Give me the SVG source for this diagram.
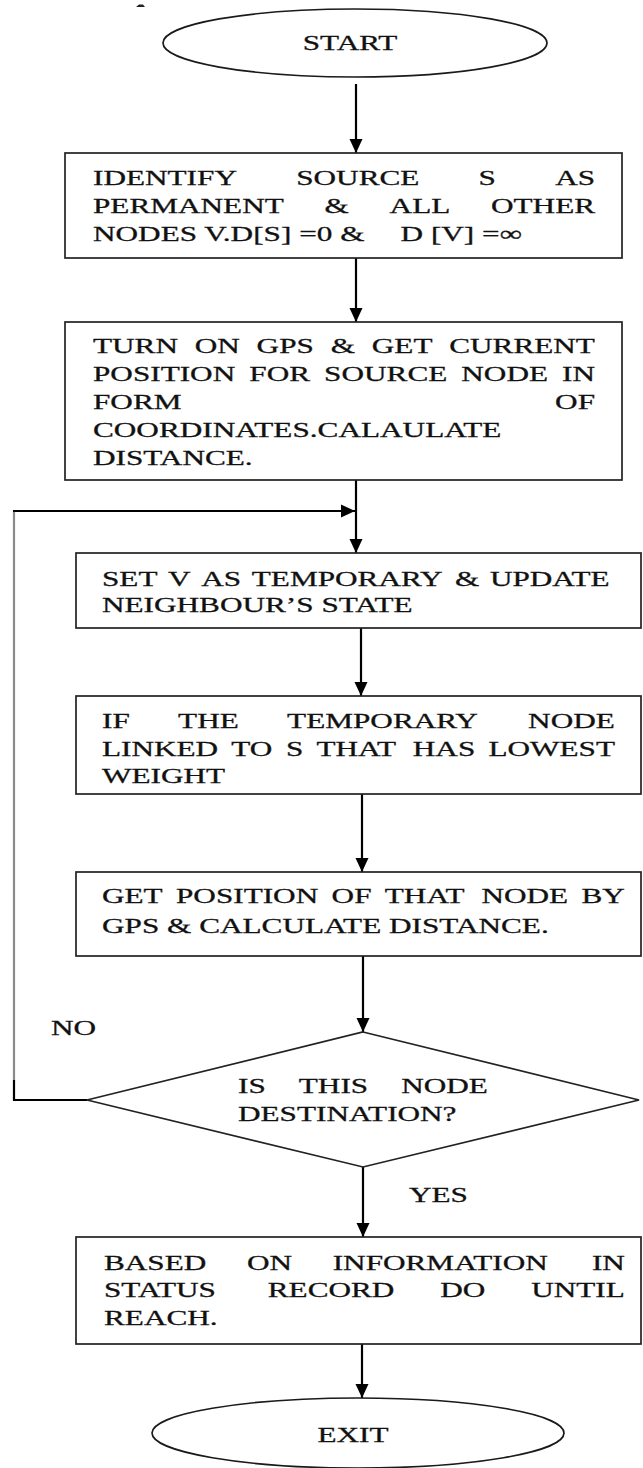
<svg xmlns="http://www.w3.org/2000/svg" width="643" height="1468" viewBox="0 0 643 1468">
  <style>
    .bg { fill: #ffffff; }
    .box { fill: #ffffff; stroke: #222222; stroke-width: 1.7; }
    .term { fill: #ffffff; stroke: #1a1a1a; stroke-width: 1.7; }
    .conn { fill: none; stroke: #000000; stroke-width: 2.2; }
    .conn-grey { fill: none; stroke: #8a8a8a; stroke-width: 2.2; }
    .t { font-family: "Liberation Serif", "Times New Roman", serif; font-size: 22px; fill: #111111; stroke: #111111; stroke-width: 0.3; }
    .mid { text-anchor: middle; }
  </style>
  <defs>
    <marker id="arrow" markerWidth="14" markerHeight="14" refX="14" refY="7" orient="auto" markerUnits="userSpaceOnUse">
      <path d="M0,0.5 L14,7 L0,13.5 Z" fill="#000000"/>
    </marker>
  </defs>

  <rect class="bg" x="0" y="0" width="643" height="1468"/>

  <!-- small stray mark at the top -->
  <path d="M136,7 L139,4.5 L143,4.5 L145,7 Z" fill="#222222"/>

  <!-- connectors -->
  <g id="connectors">
    <line class="conn" x1="356" y1="84" x2="356" y2="153" marker-end="url(#arrow)"/>
    <line class="conn" x1="356" y1="258" x2="356" y2="322" marker-end="url(#arrow)"/>
    <line class="conn" x1="356" y1="480" x2="356" y2="553" marker-end="url(#arrow)"/>
    <line class="conn" x1="361" y1="628" x2="361" y2="696" marker-end="url(#arrow)"/>
    <line class="conn" x1="362" y1="794" x2="362" y2="872" marker-end="url(#arrow)"/>
    <line class="conn" x1="363" y1="956" x2="363" y2="1032" marker-end="url(#arrow)"/>
    <line class="conn" x1="363" y1="1167" x2="363" y2="1237" marker-end="url(#arrow)"/>
    <line class="conn" x1="362" y1="1344" x2="362" y2="1398" marker-end="url(#arrow)"/>
    <!-- NO branch: back up to the loop entry -->
    <path class="conn" d="M87,1100 H14 V1080" stroke-width="1.8"/>
    <line class="conn-grey" x1="14" y1="1080" x2="14" y2="511"/>
    <path class="conn" d="M13,511 H355" marker-end="url(#arrow)"/>
  </g>

  <!-- START -->
  <g id="start">
    <ellipse class="term" cx="355" cy="43" rx="192" ry="34"/>
    <text class="t mid" transform="scale(1.42 1)" x="246.5" y="50">START</text>
  </g>

  <!-- step 1 -->
  <g id="identify-source">
    <rect class="box" x="65" y="153" width="557" height="105"/>
    <text class="t" transform="scale(1.42 1)" y="185">
      <tspan x="65.49">IDENTIFY</tspan><tspan x="208.59">SOURCE</tspan><tspan x="337.04">S</tspan><tspan x="390.99">AS</tspan>
    </text>
    <text class="t" transform="scale(1.42 1)" y="213">
      <tspan x="65.49">PERMANENT</tspan><tspan x="228.59">&amp;</tspan><tspan x="274.37">ALL</tspan><tspan x="345.77">OTHER</tspan>
    </text>
    <text class="t" transform="scale(1.42 1)" y="241">
      <tspan x="65.49">NODES V.D[S] =0 &amp;</tspan><tspan x="282.1">D [V] =∞</tspan>
    </text>
  </g>

  <!-- step 2 -->
  <g id="gps-position">
    <rect class="box" x="65" y="322" width="557" height="158"/>
    <text class="t" transform="scale(1.42 1)" y="353">
      <tspan x="65.49">TURN</tspan><tspan x="137.18">ON</tspan><tspan x="180.70">GPS</tspan><tspan x="232.89">&amp;</tspan><tspan x="261.83">GET</tspan><tspan x="316.34">CURRENT</tspan>
    </text>
    <text class="t" transform="scale(1.42 1)" y="381">
      <tspan x="65.49">POSITION</tspan><tspan x="175.56">FOR</tspan><tspan x="228.24">SOURCE</tspan><tspan x="324.86">NODE</tspan><tspan x="395.85">IN</tspan>
    </text>
    <text class="t" transform="scale(1.42 1)" y="409">
      <tspan x="65.49">FORM</tspan><tspan x="390.92">OF</tspan>
    </text>
    <text class="t" transform="scale(1.42 1)" x="65.49" y="437">COORDINATES.CALAULATE</text>
    <text class="t" transform="scale(1.42 1)" x="65.49" y="465">DISTANCE.</text>
  </g>

  <!-- step 3 -->
  <g id="set-temporary">
    <rect class="box" x="76" y="553" width="565" height="75"/>
    <text class="t" transform="scale(1.42 1)" y="586">
      <tspan x="71.83">SET</tspan><tspan x="118.38">V</tspan><tspan x="141.76">AS</tspan><tspan x="177.32">TEMPORARY</tspan><tspan x="320.42">&amp;</tspan><tspan x="345.00">UPDATE</tspan>
    </text>
    <text class="t" transform="scale(1.42 1)" x="71.83" y="612">NEIGHBOUR’S STATE</text>
  </g>

  <!-- step 4 -->
  <g id="lowest-weight">
    <rect class="box" x="76" y="696" width="565" height="98"/>
    <text class="t" transform="scale(1.42 1)" y="728">
      <tspan x="71.83">IF</tspan><tspan x="125.42">THE</tspan><tspan x="202.18">TEMPORARY</tspan><tspan x="371.90">NODE</tspan>
    </text>
    <text class="t" transform="scale(1.42 1)" y="756">
      <tspan x="71.83">LINKED</tspan><tspan x="162.89">TO</tspan><tspan x="201.34">S</tspan><tspan x="222.82">THAT</tspan><tspan x="290.70">HAS</tspan><tspan x="343.94">LOWEST</tspan>
    </text>
    <text class="t" transform="scale(1.42 1)" x="71.83" y="783">WEIGHT</text>
  </g>

  <!-- step 5 -->
  <g id="node-position">
    <rect class="box" x="76" y="872" width="565" height="84"/>
    <text class="t" transform="scale(1.42 1)" y="903">
      <tspan x="71.83">GET</tspan><tspan x="123.94">POSITION</tspan><tspan x="233.52">OF</tspan><tspan x="270.99">THAT</tspan><tspan x="339.01">NODE</tspan><tspan x="409.51">BY</tspan>
    </text>
    <text class="t" transform="scale(1.42 1)" x="71.83" y="933">GPS &amp; CALCULATE DISTANCE.</text>
  </g>

  <!-- decision -->
  <g id="is-destination">
    <path class="box" d="M363,1032 L639,1100 L363,1167 L87,1100 Z"/>
    <text class="t" transform="scale(1.42 1)" y="1093">
      <tspan x="167.61">IS</tspan><tspan x="210.42">THIS</tspan><tspan x="282.54">NODE</tspan>
    </text>
    <text class="t" transform="scale(1.42 1)" x="167.61" y="1121">DESTINATION?</text>
  </g>

  <!-- branch labels -->
  <g id="labels">
    <text class="t" transform="scale(1.42 1)" x="35.92" y="1035">NO</text>
    <text class="t" transform="scale(1.42 1)" x="288.03" y="1202">YES</text>
  </g>

  <!-- step 6 -->
  <g id="status-record">
    <rect class="box" x="76" y="1237" width="565" height="107"/>
    <text class="t" transform="scale(1.42 1)" y="1270">
      <tspan x="73.24">BASED</tspan><tspan x="173.94">ON</tspan><tspan x="234.30">INFORMATION</tspan><tspan x="416.83">IN</tspan>
    </text>
    <text class="t" transform="scale(1.42 1)" y="1297">
      <tspan x="73.24">STATUS</tspan><tspan x="188.59">RECORD</tspan><tspan x="310.07">DO</tspan><tspan x="374.08">UNTIL</tspan>
    </text>
    <text class="t" transform="scale(1.42 1)" x="73.24" y="1325">REACH.</text>
  </g>

  <!-- EXIT -->
  <g id="exit">
    <ellipse class="term" cx="358" cy="1433" rx="206" ry="35"/>
    <text class="t mid" transform="scale(1.42 1)" x="248.6" y="1442">EXIT</text>
  </g>
</svg>
